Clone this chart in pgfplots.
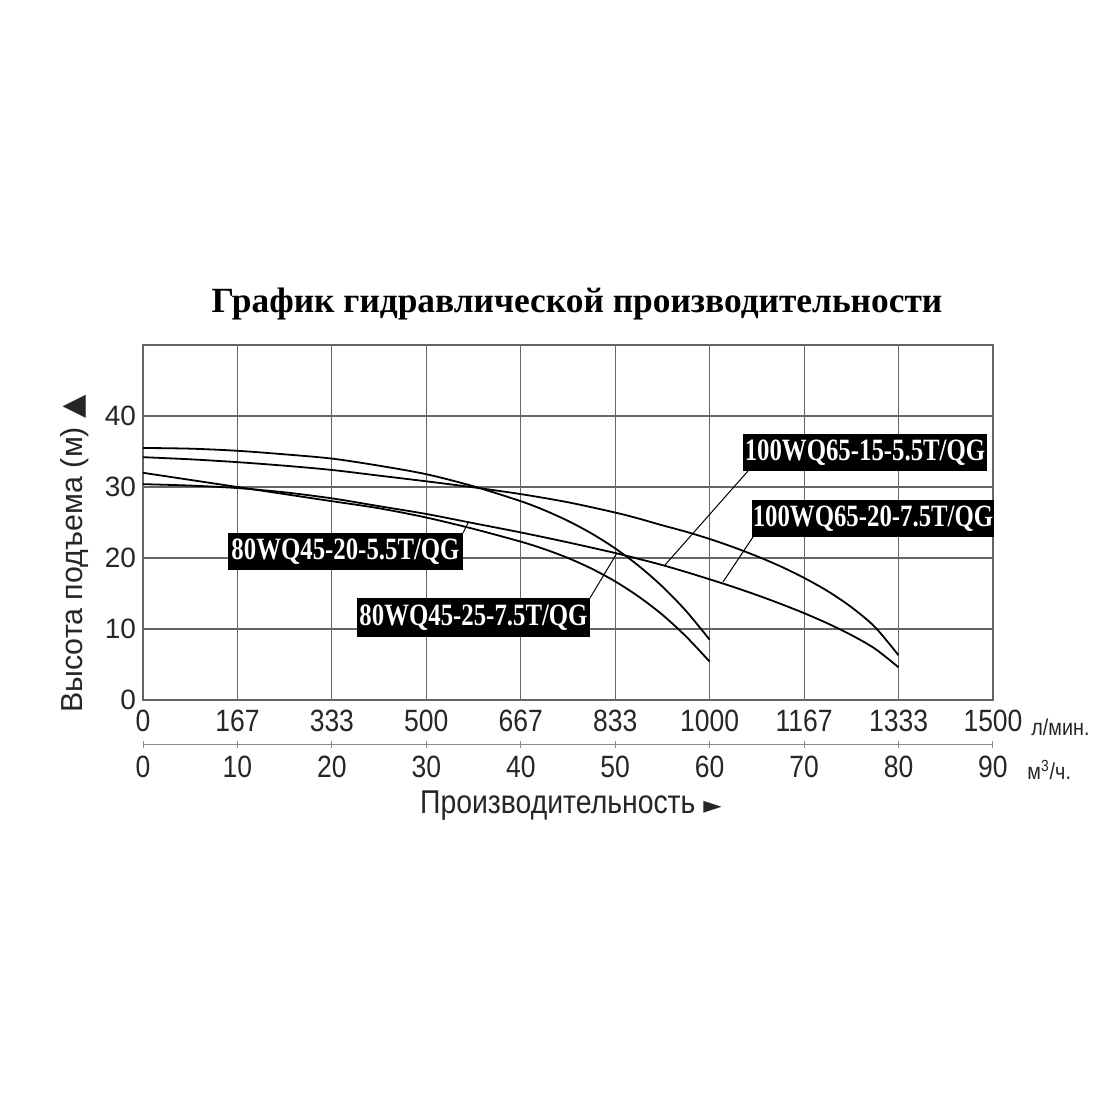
\documentclass[border=0pt]{standalone}
\usepackage{pgfplots}
\pgfplotsset{compat=1.18}
\usepackage{fontspec}
\setmainfont{Liberation Sans}
\newfontfamily\narrow[FakeStretch=0.86]{Liberation Sans}
\newfontfamily\titlefont{Liberation Serif}
\newfontfamily\boxfont[FakeStretch=0.8]{Liberation Serif}
\newfontfamily\symfont{DejaVu Sans}
\begin{document}
\begin{tikzpicture}[x=0.5pt,y=0.5pt]
\path[use as bounding box, fill=white] (0,0) rectangle (1100,1100);
\begin{axis}[
  at={(71.5pt,200pt)}, anchor=south west,
  scale only axis, width=425pt, height=177.5pt,
  xmin=0, xmax=90, ymin=0, ymax=50,
  xtick={0,10,...,90},
  xticklabels={0,167,333,500,667,833,1000,1167,1333,1500},
  ytick={0,10,...,40},
  grid=major,
  major grid style={draw=black!60, line width=0.55pt},
  axis line style={draw=black!60, line width=0.6pt},
  tick style={draw=none},
  /pgf/number format/assume math mode=true,
  xticklabel style={font=\narrow\fontsize{15.4}{15.4}\selectfont, text=black!85, yshift=-1.5pt},
  yticklabel style={font=\fontsize{14}{14}\selectfont, text=black!85},
  clip=false,
]
% 80WQ45-25-7.5T/QG
\addplot[black, line width=0.9pt, smooth] coordinates {
 (0,35.5) (5,35.4) (10,35.1) (15,34.6) (20,34.0) (25,33.0) (30,31.8) (35,30.1) (40,28.0) (42.5,26.73) (45,25.23) (47.5,23.45) (50,21.35) (52.5,18.88) (55,15.97) (57.5,12.54) (60,8.5)};
% 100WQ65-20-7.5T/QG
\addplot[black, line width=0.9pt, smooth] coordinates {
 (0,34.2) (5,33.9) (10,33.5) (15,33.0) (20,32.4) (25,31.6) (30,30.8) (35,29.95) (40,29.0) (45,27.85) (50,26.4) (52.5,25.55) (55,24.6) (57.5,23.7) (60,22.68) (62.5,21.53) (65,20.25) (67.5,18.83) (70,17.2) (72.5,15.33) (75,13.08) (77.5,10.28) (80,6.3)};
% 80WQ45-20-5.5T/QG
\addplot[black, line width=0.9pt, smooth] coordinates {
 (0,32.0) (5,31.0) (10,30.0) (15,29.0) (20,28.0) (25,27.0) (30,25.7) (35,24.1) (40,22.3) (42.5,21.25) (45,20.0) (47.5,18.5) (50,16.7) (52.5,14.55) (55,12.0) (57.5,8.95) (60,5.4)};
% 100WQ65-15-5.5T/QG
\addplot[black, line width=0.9pt, smooth] coordinates {
 (0,30.4) (5,30.2) (10,29.85) (15,29.25) (20,28.4) (25,27.3) (30,26.2) (35,24.9) (40,23.6) (45,22.2) (50,20.7) (52.5,19.87) (55,19.0) (57.5,18.03) (60,17.0) (62.5,15.93) (65,14.78) (67.5,13.55) (70,12.23) (72.5,10.78) (75,9.15) (77.5,7.23) (80,4.6)};
\end{axis}
% title
\node[font=\titlefont\bfseries\fontsize{17.7}{17.7}\selectfont] at (577,796) {График гидравлической производительности};
% y label
\node[rotate=90, font=\fontsize{15.2}{15.2}\selectfont, text=black!85] at (75,546) {Высота подъема (м) {\symfont ▲}};
% units
\node[anchor=west, font=\narrow\fontsize{11.5}{11.5}\selectfont, text=black!85, inner sep=0pt] at (1031,373) {л/мин.};
\node[anchor=west, font=\narrow\fontsize{11.5}{11.5}\selectfont, text=black!85, inner sep=0pt] at (1027,330) {м\textsuperscript{3}/ч.};
% second scale
\draw[black!45, line width=0.5pt] (143,355) -- (993,355);
\foreach \i/\l in {0/0,1/10,2/20,3/30,4/40,5/50,6/60,7/70,8/80,9/90}{
  \draw[black!45, line width=0.5pt] ({143+94.44*\i},352) -- ({143+94.44*\i},359);
  \node[font=\narrow\fontsize{15.4}{15.4}\selectfont, text=black!85] at ({143+94.44*\i},333) {\l};
}
\node[font=\narrow\fontsize{16.5}{16.5}\selectfont, text=black!85] at (571,294) {Производительность {\symfont\fontsize{12}{12}\selectfont ►}};
% label boxes
\tikzset{lbl/.style={fill=black, text=white, font=\boxfont\bfseries\fontsize{15.5}{15.5}\selectfont, inner sep=0pt, minimum height=18.5pt}}
\node[lbl, minimum width=117.5pt] at (345.5,548.5) {80WQ45-20-5.5T/QG};
\node[lbl, minimum width=116.5pt, minimum height=19.5pt] at (473.5,482.5) {80WQ45-25-7.5T/QG};
\node[lbl, minimum width=122pt] at (865,647.5) {100WQ65-15-5.5T/QG};
\node[lbl, minimum width=121pt] at (873,581.5) {100WQ65-20-7.5T/QG};
% leaders
\draw[black, line width=0.5pt] (463,567) -- (468,577);
\draw[black, line width=0.5pt] (590,502) -- (617,547);
\draw[black, line width=0.5pt] (748,629) -- (665,535);
\draw[black, line width=0.5pt] (753,563) -- (723,518);
\end{tikzpicture}
\end{document}
